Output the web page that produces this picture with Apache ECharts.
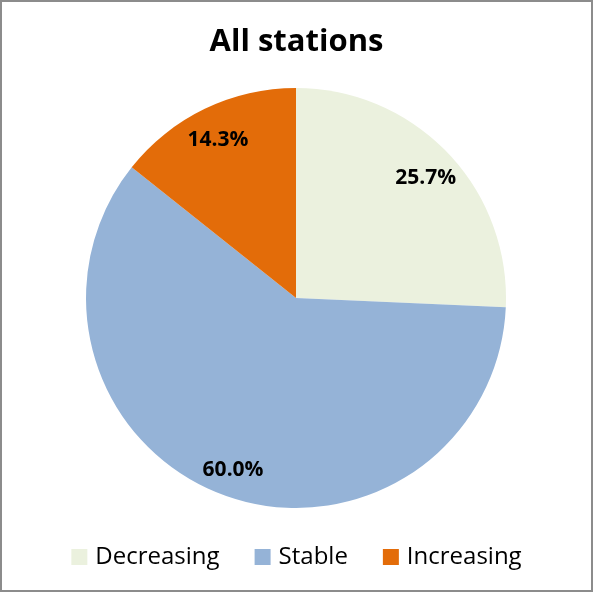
<!DOCTYPE html>
<html><head><meta charset="utf-8">
<script src="https://cdn.jsdelivr.net/npm/echarts@6/dist/echarts.min.js"></script>
<style>html,body{margin:0;padding:0;background:#fff}#c{width:593px;height:592px;box-sizing:border-box;border:2px solid #8c8c8c}</style>
</head><body><div id="c"></div>
<script>
const categories = ['Decreasing', 'Stable', 'Increasing'];
const values = [25.7, 60.0, 14.3];
const colors = ['#EBF1DE', '#95B3D7', '#E36C09'];

const chart = echarts.init(document.getElementById('c'));
const data = categories.map((n, i) => ({ name: n, value: values[i], itemStyle: { color: colors[i] } }));
chart.setOption({
  animation: false,
  title: { text: 'All stations', left: 'center', top: 20, textStyle: { fontFamily: 'Open Sans', fontWeight: 'bold', fontSize: 31, color: '#000' } },
  legend: {
    bottom: 16, left: 'center', itemWidth: 16, itemHeight: 16, itemGap: 35, icon: 'rect',
    textStyle: { fontFamily: 'Open Sans', fontSize: 24, color: '#000', padding: [0, 0, 0, 3] },
    data: categories
  },
  series: [
    { type: 'pie', center: [294, 296], radius: [0, 210], startAngle: 90, clockwise: true, silent: true,
      label: { show: false }, labelLine: { show: false }, data: data },
    { type: 'pie', center: [294, 296], radius: [152, 201], startAngle: 90, clockwise: true, silent: true,
      itemStyle: { color: 'transparent' }, legendHoverLink: false,
      label: { show: true, position: 'inside', offset: [0, 4], formatter: p => p.value.toFixed(1) + '%',
        fontFamily: 'Open Sans', fontWeight: 'bold', fontSize: 21, color: '#000' },
      labelLine: { show: false },
      data: categories.map((n, i) => ({ name: n + ' ', value: values[i] })) }
  ]
});
</script></body></html>
